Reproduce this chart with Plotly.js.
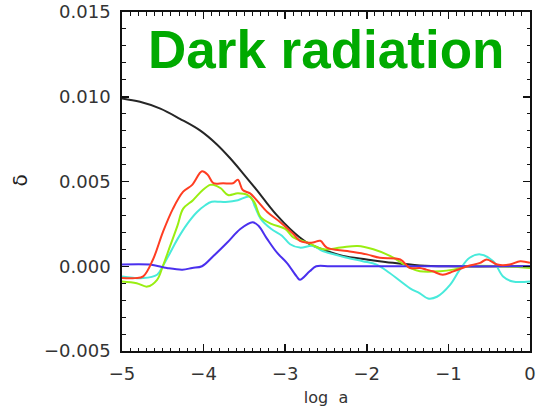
<!DOCTYPE html>
<html>
<head>
<meta charset="utf-8">
<script src="https://cdn.plot.ly/plotly-3.0.1.min.js"></script>
<style>html,body{margin:0;padding:0;background:#fff;}#chart{width:538px;height:409px;}</style>
</head>
<body>
<div id="chart"></div>
<script>
// Black reference curve
var blackX = [-5.0, -4.78, -4.53, -4.29, -4.04, -3.84, -3.68, -3.52, -3.35, -3.22, -3.10, -2.94, -2.82, -2.70, -2.49, -2.29, -2.0, -1.68, -1.35, -1.0, 0.0];
var blackY = [0.0099, 0.0097, 0.0093, 0.0087, 0.0080, 0.0072, 0.0064, 0.0055, 0.0045, 0.0037, 0.0030, 0.0022, 0.0017, 0.0013, 0.0009, 0.0006, 0.0004, 0.0002, 0.00005, 0.0, 0.0];

// Red curve
var redX = [-5.0, -4.84, -4.74, -4.62, -4.50, -4.375, -4.25, -4.14, -4.02, -3.95, -3.88, -3.76, -3.64, -3.58, -3.52, -3.43, -3.35, -3.22, -3.06, -2.90, -2.82, -2.74, -2.66, -2.57, -2.49, -2.24, -2.0, -1.84, -1.59, -1.47, -1.35, -1.27, -1.19, -1.07, -0.94, -0.77, -0.61, -0.53, -0.40, -0.25, -0.12, 0.0];
var redY = [-0.0007, -0.0007, -0.0006, 0.0004, 0.0020, 0.0034, 0.0044, 0.0048, 0.0056, 0.0054, 0.0049, 0.0049, 0.0049, 0.0051, 0.0045, 0.0043, 0.0039, 0.0032, 0.0026, 0.0019, 0.0015, 0.0014, 0.0014, 0.0015, 0.0011, 0.0009, 0.0007, 0.0005, 0.0004, -0.0001, -0.0001, -0.0002, -0.0003, -0.0005, -0.0003, 0.0, 0.0002, 0.0004, 0.0001, 0.0001, 0.0003, 0.0002];

// Green curve
var greenX = [-5.0, -4.82, -4.69, -4.57, -4.5, -4.41, -4.32, -4.25, -4.13, -4.01, -3.92, -3.88, -3.79, -3.70, -3.58, -3.46, -3.38, -3.30, -3.17, -3.0, -2.90, -2.73, -2.53, -2.32, -2.11, -1.92, -1.71, -1.47, -1.35, -1.10, -0.94, -0.77, -0.37, 0.0];
var greenY = [-0.0009, -0.0010, -0.0012, -0.0008, 0.0, 0.0012, 0.0024, 0.0034, 0.0039, 0.0045, 0.0048, 0.0048, 0.0046, 0.0042, 0.0043, 0.0042, 0.0038, 0.0029, 0.0025, 0.0022, 0.0017, 0.0014, 0.0010, 0.0011, 0.0012, 0.0010, 0.0006, -0.0001, -0.0003, -0.0003, -0.0002, 0.0, 0.0, -0.0001];

// Cyan curve
var cyanX = [-5.0, -4.74, -4.57, -4.50, -4.41, -4.32, -4.20, -4.08, -3.98, -3.90, -3.79, -3.70, -3.58, -3.43, -3.37, -3.30, -3.17, -3.04, -2.94, -2.82, -2.66, -2.54, -2.24, -2.05, -1.88, -1.72, -1.47, -1.35, -1.25, -1.14, -0.98, -0.86, -0.74, -0.61, -0.45, -0.33, -0.21, 0.0];
var cyanY = [-0.0006, -0.0007, -0.0005, 0.0, 0.0008, 0.0016, 0.0025, 0.0032, 0.0036, 0.0038, 0.0038, 0.0038, 0.0039, 0.0041, 0.0035, 0.0028, 0.0022, 0.0018, 0.0013, 0.0011, 0.0012, 0.0009, 0.0005, 0.0003, 0.0001, -0.0004, -0.0013, -0.0016, -0.0019, -0.0018, -0.0011, -0.0002, 0.0005, 0.0007, 0.0003, -0.0006, -0.0009, -0.0009];

// Blue curve
var blueX = [-5.0, -4.66, -4.45, -4.26, -4.14, -4.02, -3.88, -3.71, -3.55, -3.40, -3.33, -3.22, -3.10, -2.98, -2.86, -2.82, -2.70, -2.62, -2.45, -2.0, -1.0, 0.0];
var blueY = [0.0001, 0.0001, -0.0001, -0.0002, -0.0001, 0.0, 0.0006, 0.0014, 0.0022, 0.0026, 0.0024, 0.0016, 0.0008, 0.0002, -0.0006, -0.0008, -0.0003, 0.0, 0.0, 0.0, 0.0, 0.0];

var titleText = "Dark radiation";
var xTitle = "log\u00a0\u00a0a";
var yTitle = "\u03b4";

function tr(x, y, color) {
  return {x: x, y: y, type: 'scatter', mode: 'lines',
    line: {color: color, width: 2, shape: 'spline', smoothing: 1},
    hoverinfo: 'skip', showlegend: false};
}

var data = [
  tr(blackX, blackY, '#262626'),
  tr(cyanX, cyanY, '#48eadb'),
  tr(greenX, greenY, '#99ee11'),
  tr(blueX, blueY, '#4a30ee'),
  tr(redX, redY, '#ff3d22')
];

var tickFont = {family: 'DejaVu Sans', size: 18, color: '#333'};

var layout = {
  width: 538, height: 409,
  margin: {l: 122, r: 8, t: 12, b: 58},
  paper_bgcolor: '#fff', plot_bgcolor: '#fff',
  showlegend: false,
  xaxis: {
    range: [-5, 0], tick0: 0, dtick: 1, tickformat: 'd',
    ticks: 'inside', ticklen: 7, tickwidth: 1.5, tickcolor: '#111',
    mirror: 'allticks', showline: true, linewidth: 1.8, linecolor: '#111',
    minor: {dtick: 0.1, ticks: 'inside', ticklen: 3.5, tickwidth: 1, tickcolor: '#111'},
    showgrid: false, zeroline: false, tickfont: tickFont, ticklabelstandoff: 6,
    title: {text: xTitle, font: {family: 'DejaVu Sans', size: 16, color: '#333'}, standoff: 8}
  },
  yaxis: {
    range: [-0.005, 0.015], tick0: 0, dtick: 0.005, tickformat: '.3f',
    ticks: 'inside', ticklen: 7, tickwidth: 1.5, tickcolor: '#111',
    mirror: 'allticks', showline: true, linewidth: 1.8, linecolor: '#111',
    minor: {dtick: 0.001, ticks: 'inside', ticklen: 3.5, tickwidth: 1, tickcolor: '#111'},
    showgrid: false, zeroline: false, tickfont: tickFont, ticklabelstandoff: 6
  },
  annotations: [{
    text: titleText, xref: 'paper', yref: 'paper', x: 0.499, y: 0.889,
    xanchor: 'center', yanchor: 'middle', showarrow: false,
    font: {family: 'Liberation Sans', size: 53, color: '#00aa00', weight: 'bold'}
  }, {
    text: yTitle, xref: 'paper', yref: 'paper', x: -0.25, y: 0.503,
    xanchor: 'center', yanchor: 'middle', showarrow: false, textangle: -90,
    font: {family: 'DejaVu Sans', size: 20, color: '#222'}
  }]
};

Plotly.newPlot('chart', data, layout, {staticPlot: true, displayModeBar: false});
</script>
</body>
</html>
